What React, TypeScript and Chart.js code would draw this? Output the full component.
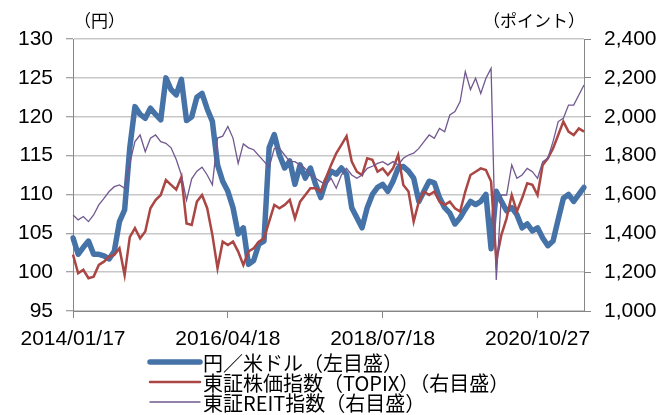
import React, { useEffect, useRef } from "react";
import { Chart, registerables } from "chart.js";

Chart.register(...registerables);

// Tick labels shown on the date axis (one every TICK_EVERY samples)
const TICK_DATES = ["2014/01/17", "2016/04/18", "2018/07/18", "2020/10/27"];
const TICK_EVERY = 30;

// 円／米ドル (left axis, yen)
const USD_JPY = [
  104.4, 102.3, 103.2, 104.0, 102.3, 102.3, 102.1, 101.7, 102.7, 106.5,
  108.0, 116.0, 121.3, 120.3, 119.8, 121.1, 120.3, 119.6, 125.0, 123.5,
  122.8, 124.8, 119.5, 120.0, 122.5, 123.0, 121.0, 119.4, 113.8, 111.7,
  110.4, 108.3, 104.9, 105.7, 101.0, 101.5, 103.6, 104.0, 116.0, 117.7,
  115.1, 113.4, 114.3, 111.3, 113.8, 112.1, 113.4, 111.3, 109.6, 111.7,
  113.0, 112.6, 113.4, 112.6, 108.3, 107.0, 105.7, 108.3, 110.0, 110.9,
  111.3, 110.4, 111.7, 113.4, 113.6, 113.0, 112.1, 109.1, 110.4, 111.7,
  111.5, 109.6, 108.3, 107.6, 106.2, 107.0, 108.1, 109.1, 108.7, 109.1,
  110.0, 103.0, 110.4, 109.1, 107.9, 108.3, 107.4, 105.7, 106.2, 105.3,
  105.7, 104.4, 103.4, 104.0, 106.8, 109.5, 110.0, 109.1, 110.0, 110.9,
];

// 東証株価指数 TOPIX (right axis, points)
const TOPIX = [
  1290, 1194, 1212, 1169, 1177, 1237, 1254, 1280, 1289, 1323,
  1185, 1380, 1426, 1374, 1409, 1529, 1571, 1597, 1674, 1649,
  1625, 1690, 1450, 1443, 1563, 1597, 1529, 1392, 1220, 1357,
  1340, 1357, 1306, 1237, 1306, 1323, 1357, 1374, 1460, 1546,
  1529, 1546, 1572, 1477, 1563, 1597, 1632, 1632, 1615, 1683,
  1752, 1812, 1855, 1900, 1769, 1717, 1700, 1786, 1778, 1717,
  1734, 1700, 1734, 1803, 1649, 1615, 1460, 1563, 1615, 1597,
  1615, 1563, 1546, 1563, 1529, 1512, 1615, 1700, 1717, 1734,
  1726, 1666, 1260, 1392, 1477, 1597, 1512, 1580, 1657, 1649,
  1597, 1752, 1786, 1837, 1906, 1975, 1923, 1906, 1940, 1923,
];

// 東証REIT指数 (right axis, points)
const REIT = [
  1494, 1469, 1486, 1460, 1494, 1546, 1580, 1615, 1640, 1649,
  1632, 1760, 1872, 1906, 1820, 1889, 1906, 1872, 1863, 1840,
  1780, 1700, 1570, 1680, 1720, 1740, 1700, 1650, 1890, 1900,
  1950, 1890, 1760, 1860, 1840, 1830, 1800, 1770, 1740, 1837,
  1837, 1803, 1769, 1769, 1752, 1734, 1700, 1683, 1666, 1649,
  1683, 1632, 1700, 1734, 1700, 1683, 1700, 1734, 1745, 1760,
  1769, 1752, 1769, 1752, 1786, 1803, 1812, 1837, 1872, 1906,
  1889, 1940, 1923, 2009, 2026, 2078, 2232, 2140, 2198, 2120,
  2198, 2249, 1160, 1597, 1597, 1752, 1683, 1700, 1734, 1717,
  1683, 1769, 1786, 1872, 1975, 1992, 2060, 2060, 2112, 2163,
];

const SERIES_NAMES = [
  "円／米ドル（左目盛）",
  "東証株価指数（TOPIX）（右目盛）",
  "東証REIT指数（右目盛）",
];
const LEFT_TITLE = "（円）";
const RIGHT_TITLE = "（ポイント）";

const LABELS = USD_JPY.map((_, i) =>
  i % TICK_EVERY === 0 && TICK_DATES[i / TICK_EVERY] ? TICK_DATES[i / TICK_EVERY] : ""
);

const AXIS_GRAY = "#868686";
const GRID_GRAY = "#C8C8C8";
const TICK_FONT = { family: '"Liberation Sans", Arial, sans-serif', size: 21 };
const CJK_FONT = '"Noto Sans CJK JP", "Noto Sans", sans-serif';

const overlayPlugin = {
  id: "overlay",
  afterDraw(chart: any) {
    const { ctx, chartArea } = chart;
    ctx.save();
    ctx.fillStyle = "#000";
    ctx.textBaseline = "middle";
    ctx.font = `17px ${CJK_FONT}`;
    ctx.textAlign = "left";
    ctx.fillText(LEFT_TITLE, chartArea.left + 1, chartArea.top - 18);
    ctx.textAlign = "right";
    ctx.fillText(RIGHT_TITLE, chartArea.right + 1, chartArea.top - 18);

    // legend: one entry per row, left aligned
    const lineX0 = 150;
    const lineX1 = 200;
    const textX = 203;
    const rowY0 = chartArea.bottom + 51;
    const rowGap = 20;
    ctx.font = `20px ${CJK_FONT}`;
    ctx.textAlign = "left";
    chart.data.datasets.forEach((ds: any, i: number) => {
      const y = rowY0 + i * rowGap;
      ctx.strokeStyle = ds.borderColor;
      ctx.lineWidth = ds.borderWidth;
      ctx.lineCap = "round";
      ctx.beginPath();
      ctx.moveTo(lineX0, y);
      ctx.lineTo(lineX1, y);
      ctx.stroke();
      ctx.fillText(ds.label, textX, y + 1);
    });
    ctx.restore();
  },
};

export default function App() {
  const ref = useRef<HTMLCanvasElement | null>(null);

  useEffect(() => {
    if (!ref.current) return;
    const chart = new Chart(ref.current, {
      type: "line",
      data: {
        labels: LABELS,
        datasets: [
          {
            label: SERIES_NAMES[0],
            data: USD_JPY,
            yAxisID: "y",
            borderColor: "#4572A7",
            backgroundColor: "#4572A7",
            borderWidth: 5.5,
            pointRadius: 0,
            tension: 0,
            borderJoinStyle: "round",
            borderCapStyle: "round",
            order: 2,
          },
          {
            label: SERIES_NAMES[1],
            data: TOPIX,
            yAxisID: "y2",
            borderColor: "#AA4643",
            backgroundColor: "#AA4643",
            borderWidth: 2.5,
            pointRadius: 0,
            tension: 0,
            order: 1,
          },
          {
            label: SERIES_NAMES[2],
            data: REIT,
            yAxisID: "y2",
            borderColor: "#71588F",
            backgroundColor: "#71588F",
            borderWidth: 1.3,
            pointRadius: 0,
            tension: 0,
            order: 0,
          },
        ],
      },
      options: {
        responsive: false,
        animation: false,
        devicePixelRatio: 1,
        layout: { padding: { top: 39, left: 0, right: 0, bottom: 0 } },
        plugins: {
          legend: { display: false },
          tooltip: { enabled: false },
        },
        scales: {
          x: {
            type: "category",
            offset: false,
            afterBuildTicks: (scale: any) => {
              scale.ticks = scale.ticks.filter((t: any) => LABELS[t.value] !== "");
            },
            afterFit: (scale: any) => {
              scale.height = 104;
            },
            grid: {
              drawOnChartArea: false,
              drawTicks: true,
              tickLength: 7,
              color: AXIS_GRAY,
              tickColor: AXIS_GRAY,
            },
            border: { color: AXIS_GRAY, width: 1 },
            ticks: {
              autoSkip: false,
              maxRotation: 0,
              minRotation: 0,
              padding: 9,
              color: "#000",
              font: TICK_FONT,
              callback: (v: any) => LABELS[v],
            },
          },
          y: {
            position: "left",
            min: 95,
            max: 130,
            afterFit: (scale: any) => {
              scale.width = 73;
            },
            grid: {
              color: GRID_GRAY,
              lineWidth: 1.5,
              tickLength: 7,
              tickColor: AXIS_GRAY,
              tickWidth: 1,
            },
            border: { color: AXIS_GRAY, width: 1 },
            ticks: {
              stepSize: 5,
              padding: 13,
              color: "#000",
              font: TICK_FONT,
            },
          },
          y2: {
            position: "right",
            min: 1000,
            max: 2400,
            afterFit: (scale: any) => {
              scale.width = 87;
            },
            grid: {
              drawOnChartArea: false,
              tickLength: 7,
              color: AXIS_GRAY,
              tickColor: AXIS_GRAY,
            },
            border: { color: AXIS_GRAY, width: 1 },
            ticks: {
              stepSize: 200,
              padding: 13,
              color: "#000",
              font: TICK_FONT,
              callback: (v: any) => Number(v).toLocaleString("en-US"),
            },
          },
        },
      },
      plugins: [overlayPlugin],
    } as any);
    return () => chart.destroy();
  }, []);

  return (
    <div style={{ position: "absolute", left: 0, top: 0, width: 671, height: 415, background: "#fff" }}>
      <canvas ref={ref} width={671} height={415} style={{ display: "block" }} />
    </div>
  );
}
